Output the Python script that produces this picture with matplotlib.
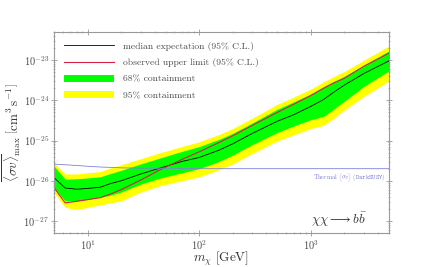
import numpy as np
import matplotlib
matplotlib.use('Agg')
import matplotlib.pyplot as plt

plt.rcParams['mathtext.fontset'] = 'cm'
plt.rcParams['font.family'] = 'serif'
plt.rcParams['font.serif'] = ['cmr10']
plt.rcParams['axes.unicode_minus'] = False
plt.rcParams['axes.formatter.use_mathtext'] = True

# dark matter mass [GeV]
mass = [5, 6.3, 8, 10, 13, 16, 20, 30, 45, 70, 100, 150, 200, 300, 500, 700,
        1000, 1300, 1600, 2000, 3000, 5000]

# log10 of <sigma v> limits
median_log = [-25.92, -26.18, -26.21, -26.19, -26.16, -26.07, -26.00, -25.83, -25.68,
              -25.52, -25.42, -25.24, -25.08, -24.82, -24.52, -24.36, -24.15, -23.98,
              -23.80, -23.62, -23.33, -23.02]
observed_log = [-26.17, -26.55, -26.51, -26.47, -26.42, -26.33, -26.22, -25.98, -25.72,
                -25.47, -25.28, -25.05, -24.88, -24.62, -24.30, -24.10, -23.88, -23.70,
                -23.57, -23.45, -23.15, -22.83]
g68_hi_log = [-25.63, -25.96, -25.95, -25.93, -25.90, -25.82, -25.74, -25.58, -25.43,
              -25.27, -25.15, -24.97, -24.82, -24.56, -24.22, -24.04, -23.84, -23.66,
              -23.53, -23.40, -23.12, -22.77]
g68_lo_log = [-26.18, -26.50, -26.50, -26.46, -26.41, -26.36, -26.28, -26.08, -25.93,
              -25.80, -25.70, -25.52, -25.36, -25.10, -24.80, -24.64, -24.48, -24.40,
              -24.22, -24.02, -23.65, -23.27]
y95_hi_log = [-25.55, -25.83, -25.83, -25.80, -25.77, -25.68, -25.60, -25.45, -25.30,
              -25.15, -25.03, -24.85, -24.70, -24.44, -24.10, -23.92, -23.72, -23.54,
              -23.41, -23.28, -23.00, -22.65]
y95_lo_log = [-26.29, -26.66, -26.72, -26.66, -26.60, -26.55, -26.50, -26.28, -26.12,
              -26.00, -25.90, -25.73, -25.58, -25.32, -25.01, -24.86, -24.70, -24.62,
              -24.45, -24.24, -23.90, -23.52]

# thermal relic cross section
thermal_mass = [5, 6.3, 8, 10, 13, 20, 30, 50, 100, 300, 1000, 5000]
thermal_xs = [2.6e-26, 2.5e-26, 2.4e-26, 2.3e-26, 2.2e-26, 2.1e-26, 2.05e-26, 2.05e-26,
              2.0e-26, 2.0e-26, 2.0e-26, 2.0e-26]

x_ticks = [10, 100, 1000]
y_ticks = [1e-27, 1e-26, 1e-25, 1e-24, 1e-23]

fig = plt.figure(figsize=(4.32, 2.67), dpi=100)
ax = fig.add_axes([0.125, 0.127, 0.775, 0.753])

ax.fill_between(mass, 10**np.array(y95_lo_log), 10**np.array(y95_hi_log),
                color='#ffff00', lw=0, label='95% containment')
ax.fill_between(mass, 10**np.array(g68_lo_log), 10**np.array(g68_hi_log),
                color='#00ff00', lw=0, label='68% containment')
ax.plot(mass, 10**np.array(median_log), color='k', lw=0.6,
        label='median expectation (95% C.L.)')
ax.plot(mass, 10**np.array(observed_log), color='#d61f45', lw=0.8,
        label='observed upper limit (95% C.L.)')
ax.plot(thermal_mass, thermal_xs, color='#8080e0', lw=0.6)

ax.text(4700, 1.75e-26, r'Thermal $\langle\sigma v\rangle$ $\mathtt{(DarkSUSY)}$',
        color='#8080d0', fontsize=4.5, ha='right', va='top')
ax.text(1000, 8.5e-28, r'$\chi\chi\longrightarrow b\bar{b}$', fontsize=9.5, color='0.2')

ax.set_xscale('log')
ax.set_yscale('log')
ax.set_xlim(5, 5000)
ax.set_ylim(5e-28, 5e-23)
ax.set_xticks(x_ticks)
ax.set_yticks(y_ticks)
ax.set_xlabel(r'$m_\chi\ [\mathrm{GeV}]$', fontsize=9.5, color='0.2', labelpad=-1)
ax.set_ylabel(r'$\overline{\langle\sigma v\rangle}_{\mathrm{max}}\ \left[\mathrm{cm^3\,s^{-1}}\right]$',
              fontsize=9.5, color='0.2', labelpad=0)

for s in ax.spines.values():
    s.set_color('0.6')
ax.tick_params(which='both', direction='inout', colors='0.6', labelcolor='0.3',
               top=True, right=True, labelsize=7.5, pad=1.5)
ax.tick_params(which='major', length=4, width=0.6)
ax.tick_params(which='minor', length=2, width=0.5)
ax.yaxis.set_minor_locator(matplotlib.ticker.LogLocator(base=10, subs=np.arange(2, 10), numticks=20))
ax.yaxis.set_minor_formatter(matplotlib.ticker.NullFormatter())
ax.xaxis.set_minor_formatter(matplotlib.ticker.NullFormatter())

handles, labels = ax.get_legend_handles_labels()
order = [2, 3, 1, 0]
ax.legend([handles[i] for i in order], [labels[i] for i in order], loc='upper left',
          frameon=False, fontsize=6.9, handlelength=5.3, handletextpad=0.9,
          labelcolor='0.3', borderaxespad=0.6, labelspacing=0.8)

fig.savefig('out.png', dpi=100)
